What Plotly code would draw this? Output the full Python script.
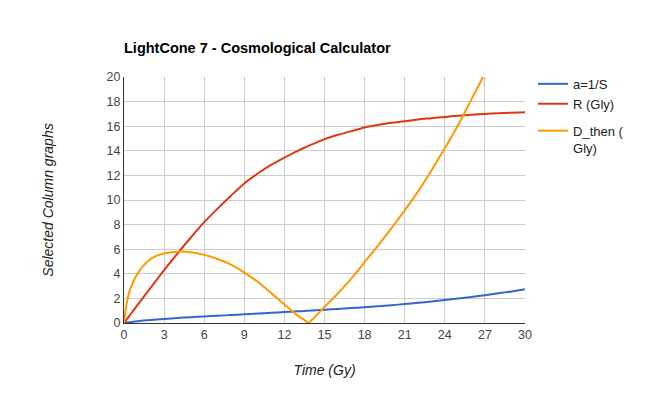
import plotly.graph_objects as go

time_gy = [0, 0.2, 0.45, 1, 1.7, 2.4, 3, 4, 5, 6, 7, 8, 9, 10, 11, 12, 13, 13.5, 13.8,
           14.1, 15, 16, 17, 18, 19, 20, 21, 22, 23, 24, 25, 26, 27, 28, 29, 30]

a_scale = [0, 0.04, 0.07, 0.15, 0.22, 0.28, 0.33, 0.41, 0.47, 0.53, 0.59, 0.65, 0.71,
           0.77, 0.83, 0.89, 0.95, 0.98, 1.0, 1.02, 1.08, 1.14, 1.21, 1.28, 1.36, 1.45,
           1.54, 1.64, 1.75, 1.87, 1.99, 2.12, 2.26, 2.41, 2.57, 2.74]

r_gly = [0, 0.29, 0.65, 1.45, 2.45, 3.45, 4.3, 5.65, 6.95, 8.2, 9.3, 10.35, 11.35,
         12.15, 12.85, 13.45, 14.0, 14.25, 14.4, 14.54, 14.95, 15.3, 15.6, 15.9, 16.1,
         16.28, 16.4, 16.55, 16.65, 16.75, 16.85, 16.93, 17.0, 17.06, 17.1, 17.13]

d_then = [0, 1.6, 2.7, 4.0, 4.95, 5.45, 5.65, 5.8, 5.75, 5.54, 5.2, 4.75, 4.1, 3.35,
          2.45, 1.5, 0.6, 0.24, 0, 0.3, 1.3, 2.4, 3.6, 4.95, 6.3, 7.7, 9.15, 10.7, 12.4,
          14.2, 16.1, 18.2, 20.3, 22.5, 24.8, 27.2]

series_names = ["a=1/S", "R (Gly)", "D_then (<br>Gly)"]
legend_groups = ["g1", "g1", "g2"]
colors = ["#3366CC", "#DC3912", "#FF9900"]
x_ticks = list(range(0, 31, 3))
y_ticks = list(range(0, 21, 2))

font_family = "Liberation Sans, Arial, sans-serif"

fig = go.Figure()
for name, vals, col, grp in zip(series_names, [a_scale, r_gly, d_then], colors, legend_groups):
    fig.add_trace(go.Scatter(x=time_gy, y=vals, mode="lines", name=name, legendgroup=grp,
                             line=dict(color=col, width=2, shape="spline", smoothing=0.8)))

fig.update_layout(
    width=650, height=400,
    margin=dict(l=116, r=133, t=69, b=85),
    paper_bgcolor="white", plot_bgcolor="white",
    font=dict(family=font_family, size=13, color="#444444"),
    title=dict(text="<b>LightCone 7 - Cosmological Calculator</b>",
               x=0, xref="paper", xanchor="left",
               y=0.9, yref="container", yanchor="middle",
               font=dict(size=14.5, color="#000000", family=font_family)),
    legend=dict(x=1.02, xanchor="left", y=1.033, yanchor="top", valign="top",
                font=dict(size=13, color="#222222"), groupclick="toggleitem",
                bgcolor="rgba(0,0,0,0)", tracegroupgap=7, itemwidth=30),
    showlegend=True,
)
fig.update_xaxes(range=[0, 30], tickvals=x_ticks, showgrid=True, gridcolor="#CCCCCC",
                 gridwidth=1, zeroline=False, showline=True, linecolor="#333333",
                 linewidth=1, ticks="", tickfont=dict(size=12.5, color="#444444"),
                 title=dict(text="<i>Time (Gy)</i>", standoff=24,
                            font=dict(size=14, color="#222222")))
fig.update_yaxes(range=[0, 20], tickvals=y_ticks, showgrid=True, gridcolor="#CCCCCC",
                 gridwidth=1, zeroline=False, showline=True, linecolor="#333333",
                 linewidth=1, ticks="", tickfont=dict(size=12.5, color="#444444"),
                 title=dict(text="<i>Selected Column graphs</i>", standoff=49,
                            font=dict(size=14, color="#222222")))

fig.write_html("out.html")
